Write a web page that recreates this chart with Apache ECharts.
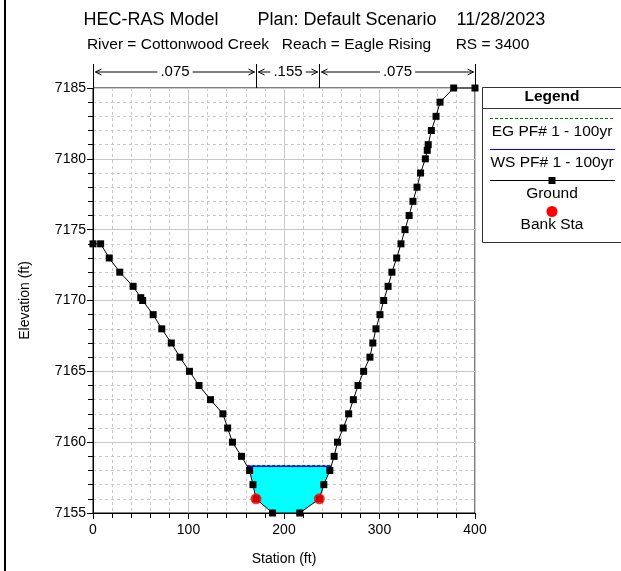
<!DOCTYPE html>
<html>
<head>
<meta charset="utf-8">
<script src="https://cdn.jsdelivr.net/npm/echarts@6/dist/echarts.min.js"></script>
<style>html,body{margin:0;padding:0;background:#fff}#c{width:621px;height:571px}</style>
</head>
<body>
<div id="c"></div>
<script>
// ---- data ----
const groundStation = [0, 8, 17, 28, 42, 50, 52, 63, 72, 82, 91, 101, 111, 123, 136, 141, 146, 155.5, 164, 167.5, 170.7, 188, 216.5, 237, 241.7, 248, 252.5, 256, 262, 267.7, 272.6, 277.5, 283.4, 290, 293, 296.3, 300.5, 304.4, 309, 313, 318, 322.5, 326.7, 331, 335, 339.3, 343, 348, 350, 351, 354.3, 359.2, 363.4, 377.7, 400];
const groundElev = [7174, 7174, 7173, 7172, 7171, 7170.2, 7170, 7169, 7168, 7167, 7166, 7165, 7164, 7163, 7162, 7161, 7160, 7159, 7158, 7157, 7156, 7155, 7155, 7156, 7157, 7158, 7159, 7160, 7161, 7162, 7163, 7164, 7165, 7166, 7167, 7168, 7169, 7170, 7171, 7172, 7173, 7174, 7175, 7176, 7177, 7178, 7179, 7180, 7180.6, 7181, 7182, 7183, 7184, 7185, 7185];
const bankStation = [170.7, 237];
const bankElev = [7156, 7156];
const wsElev = 7158.3;
const egElev = 7158.36;
const nValues = ['.075', '.155', '.075'];
const nBreaks = [0, 170.7, 237, 400];
const titleLine1 = ['HEC-RAS Model', 'Plan: Default Scenario', '11/28/2023'];
const titleLine2 = ['River = Cottonwood Creek', 'Reach = Eagle Rising', 'RS = 3400'];
const legendItems = ['EG PF# 1 - 100yr', 'WS PF# 1 - 100yr', 'Ground', 'Bank Sta'];

// ---- derived ----
const ground = groundStation.map((s, i) => [s, groundElev[i]]);
const banks = bankStation.map((s, i) => [s, bankElev[i]]);
function waterPolygon(level) {
  let iMin = 0;
  for (let i = 1; i < ground.length; i++) if (ground[i][1] < ground[iMin][1]) iMin = i;
  let l = iMin; while (l > 0 && ground[l - 1][1] < level) l--;
  let r = iMin; while (r < ground.length - 1 && ground[r + 1][1] < level) r++;
  const a = ground[l - 1], b = ground[l];
  const xl = a[0] + (level - a[1]) / (b[1] - a[1]) * (b[0] - a[0]);
  const c = ground[r], d = ground[r + 1];
  const xr = c[0] + (level - c[1]) / (d[1] - c[1]) * (d[0] - c[0]);
  return [[xl, level]].concat(ground.slice(l, r + 1)).concat([[xr, level]]);
}
const water = waterPolygon(wsElev);
const wsLine = [water[0], water[water.length - 1]];
const egLine = [[water[0][0], egElev], [water[water.length - 1][0], egElev]];

const FONT = 'Liberation Sans, Arial, sans-serif';
const chart = echarts.init(document.getElementById('c'), null, {renderer: 'canvas'});

const legX = 552;
function txt(x, y, t, font, z) {
  return {type: 'text', x: x, y: y, z: z || 1, style: {text: t, font: font, fill: '#000', align: 'center', verticalAlign: 'middle'}};
}
const graphics = [
  {type: 'rect', shape: {x: 4, y: 0, width: 2, height: 571}, style: {fill: '#000'}, silent: true},
  txt(151, 20, titleLine1[0], '18px ' + FONT),
  txt(347, 20, titleLine1[1], '18px ' + FONT),
  txt(501, 20, titleLine1[2], '18px ' + FONT),
  txt(178, 45, titleLine2[0], '15.5px ' + FONT),
  txt(356.5, 45, titleLine2[1], '15.5px ' + FONT),
  txt(492.5, 45, titleLine2[2], '15.5px ' + FONT),
  // legend box
  {type: 'rect', shape: {x: 482.5, y: 87.5, width: 145, height: 155}, style: {fill: '#fff', stroke: '#333', lineWidth: 1}, z: 10},
  txt(legX, 97, 'Legend', 'bold 15.5px ' + FONT, 11),
  {type: 'line', shape: {x1: 482.5, y1: 108.5, x2: 625, y2: 108.5}, style: {stroke: '#333', lineWidth: 1}, z: 11},
  {type: 'line', shape: {x1: 490, y1: 118.5, x2: 615, y2: 118.5}, style: {stroke: '#008000', lineWidth: 1, lineDash: [3, 2]}, z: 11},
  txt(legX, 132, legendItems[0], '15.5px ' + FONT, 11),
  {type: 'line', shape: {x1: 490, y1: 149.5, x2: 615, y2: 149.5}, style: {stroke: '#0000ff', lineWidth: 1.2}, z: 11},
  txt(legX, 163, legendItems[1], '15.5px ' + FONT, 11),
  {type: 'line', shape: {x1: 490, y1: 180.5, x2: 615, y2: 180.5}, style: {stroke: '#000', lineWidth: 1}, z: 11},
  {type: 'rect', shape: {x: legX - 3.5, y: 177, width: 7, height: 7}, style: {fill: '#000'}, z: 12},
  txt(legX, 194, legendItems[2], '15.5px ' + FONT, 11),
  {type: 'circle', shape: {cx: legX, cy: 211.5, r: 5.5}, style: {fill: '#ff0000'}, z: 11},
  txt(legX, 225, legendItems[3], '15.5px ' + FONT, 11)
];

const option = {
  animation: false,
  backgroundColor: '#fff',
  graphic: graphics,
  grid: {left: 93, top: 88, right: 146, bottom: 54, show: true, borderColor: '#000', borderWidth: 1, backgroundColor: 'transparent'},
  xAxis: {
    type: 'value', min: 0, max: 400, interval: 100,
    name: 'Station (ft)', nameLocation: 'middle', nameGap: 39,
    nameTextStyle: {fontFamily: FONT, fontSize: 14, color: '#000'},
    axisLine: {show: true, onZero: false, lineStyle: {color: '#000', width: 1}},
    axisTick: {show: true, length: 6, lineStyle: {color: '#000'}},
    minorTick: {show: true, splitNumber: 5, length: 5, lineStyle: {color: '#000'}},
    splitLine: {show: true, lineStyle: {color: '#c8c8c8', width: 1}},
    minorSplitLine: {show: true, lineStyle: {color: '#c8c8c8', width: 1, type: [3, 3]}},
    axisLabel: {fontFamily: FONT, fontSize: 14, color: '#000', margin: 10}
  },
  yAxis: {
    type: 'value', min: 7155, max: 7185, interval: 5,
    name: 'Elevation (ft)', nameLocation: 'middle', nameGap: 61, nameRotate: 90,
    nameTextStyle: {fontFamily: FONT, fontSize: 14, color: '#000'},
    axisLine: {show: true, onZero: false, lineStyle: {color: '#000', width: 1}},
    axisTick: {show: true, length: 6, lineStyle: {color: '#000'}},
    minorTick: {show: true, splitNumber: 5, length: 5, lineStyle: {color: '#000'}},
    splitLine: {show: true, lineStyle: {color: '#c8c8c8', width: 1}},
    minorSplitLine: {show: true, lineStyle: {color: '#c8c8c8', width: 1, type: [3, 3]}},
    axisLabel: {fontFamily: FONT, fontSize: 14, color: '#000', margin: 7, formatter: v => String(v)}
  },
  series: [
    {
      type: 'custom', name: 'water', clip: false, z: 2,
      data: [0],
      renderItem: function (params, api) {
        return {type: 'polygon', shape: {points: water.map(p => api.coord(p))}, style: {fill: '#00ffff', stroke: null}};
      }
    },
    {
      type: 'custom', name: 'n-values', clip: false, z: 3,
      data: [0],
      renderItem: function (params, api) {
        const top = api.coord([0, 7185])[1];
        const yA = top - 16;
        const children = [];
        nBreaks.forEach(s => {
          const x = Math.round(api.coord([s, 7185])[0]) + 0.5;
          children.push({type: 'line', shape: {x1: x, y1: top - 24, x2: x, y2: top}, style: {stroke: '#000', lineWidth: 1}});
        });
        for (let i = 0; i < nValues.length; i++) {
          const x1 = Math.round(api.coord([nBreaks[i], 7185])[0]) + 0.5;
          const x2 = Math.round(api.coord([nBreaks[i + 1], 7185])[0]) + 0.5;
          const a = x1 + 2, b = x2 - 2;
          children.push({type: 'line', shape: {x1: a, y1: yA, x2: b, y2: yA}, style: {stroke: '#000', lineWidth: 1}});
          children.push({type: 'polyline', shape: {points: [[a + 6, yA - 3], [a, yA], [a + 6, yA + 3]]}, style: {stroke: '#000', fill: null, lineWidth: 1}});
          children.push({type: 'polyline', shape: {points: [[b - 6, yA - 3], [b, yA], [b - 6, yA + 3]]}, style: {stroke: '#000', fill: null, lineWidth: 1}});
          children.push({type: 'text', x: (x1 + x2) / 2, y: yA, style: {text: nValues[i], font: '15px ' + FONT, fill: '#000', align: 'center', verticalAlign: 'middle', backgroundColor: '#fff', padding: [0, 3]}});
        }
        return {type: 'group', children: children};
      }
    },
    {
      type: 'line', name: 'EG', data: egLine, symbol: 'none', z: 4,
      lineStyle: {color: '#008000', width: 1, type: [3, 2]}
    },
    {
      type: 'line', name: 'WS', data: wsLine, symbol: 'none', z: 5,
      lineStyle: {color: '#0000ff', width: 1.5}
    },
    {
      type: 'line', name: 'Ground', data: ground, z: 6,
      symbol: 'rect', symbolSize: 7,
      itemStyle: {color: '#000'},
      lineStyle: {color: '#000', width: 1}
    },
    {
      type: 'scatter', name: 'Bank Sta', data: banks, z: 7,
      symbol: 'circle', symbolSize: 11,
      itemStyle: {color: '#ff0000'}
    }
  ]
};
chart.setOption(option);
</script>
</body>
</html>
